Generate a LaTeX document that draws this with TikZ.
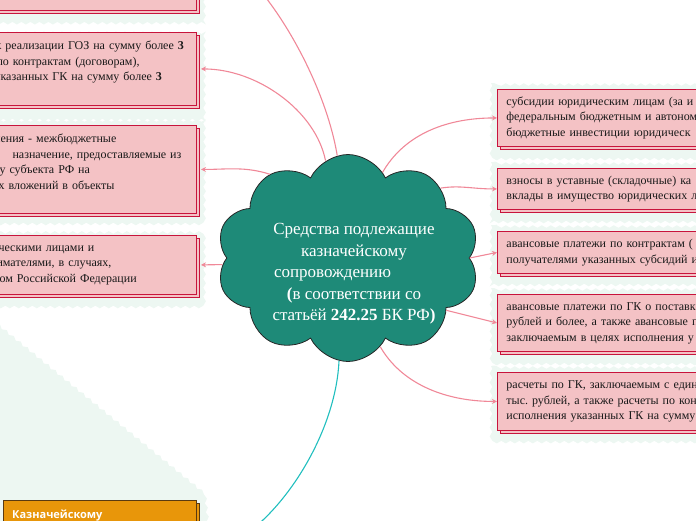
\documentclass[tikz,border=0pt]{standalone}
\usepackage{fontspec}
\setmainfont{Liberation Serif}
\newfontfamily\kaznfont{Open Sans}
\usepackage{xcolor}
\usetikzlibrary{arrows.meta, calc, positioning, shapes.symbols, shadows, backgrounds, decorations.pathmorphing}

\definecolor{cloudteal}{RGB}{30,138,120}
\definecolor{boxpink}{RGB}{244,194,197}
\definecolor{boxred}{RGB}{200,20,60}
\definecolor{linkpink}{RGB}{240,136,152}
\definecolor{linkteal}{RGB}{32,190,190}
\definecolor{mintbg}{RGB}{237,247,242}
\definecolor{kaznorange}{RGB}{232,150,10}
\definecolor{kaznbrown}{RGB}{90,58,16}

\begin{document}
\begin{tikzpicture}[x=1pt, y=-1pt,
    pinkbox/.style={draw=boxred, fill=boxpink, line width=0.9pt, inner xsep=9pt, inner ysep=0pt,
        align=left, text=black!90, font=\fontsize{12}{15.5}\selectfont,
        copy shadow={shadow xshift=3pt, shadow yshift=-3pt}},
    lbox/.style={pinkbox, text width=188pt, anchor=north east},
    rbox/.style={pinkbox, text width=280pt, anchor=north west},
    link/.style={draw=linkpink, line width=1.1pt, -{Stealth[length=5pt, width=5pt]}},
    mint/.style={fill=mintbg, decorate, decoration={snake, segment length=9pt, amplitude=1.3pt}}]
    \useasboundingbox (0,0) rectangle (696,520);
    \clip (0,0) rectangle (696,520);

    % облако
    \node[cloud, cloud puffs=10, cloud puff arc=128, cloud ignores aspect,
        minimum width=263pt, minimum height=207pt, inner sep=0pt,
        fill=cloudteal, draw=black!85, line width=0.8pt] (sredstva) at (348,258) {};
    \node[align=center, text=white, font=\fontsize{17}{21.5}\selectfont] (sredtext) at (354,274)
        {Средства подлежащие\\
         казначейскому\\
         \makebox[160pt][l]{сопровождению}\\
         \textbf{(}в соответствии со\\
         статьёй \textbf{242.25} БК РФ\textbf{)}};

    % левые блоки
    \node[lbox, anchor=south east, minimum height=120pt] (topbox) at (197,11) {};
    \node[lbox, minimum height=73pt] (gozbox) at (197,32)
        {\hspace*{-4pt}к реализации ГОЗ на сумму более \textbf{3}\\
         \hspace*{-3pt}по контрактам (договорам),\\
         \hspace*{-5pt}указанных ГК на сумму более \textbf{3}\\ ~};
    \node[lbox, minimum height=88pt] (mbtbox) at (197,125)
        {\hspace*{-5pt}ления - межбюджетные\\
         \hspace*{13pt}назначение, предоставляемые из\\
         у субъекта РФ на\\
         \hspace*{-1pt}х вложений в объекты\\ ~};
    \node[lbox, minimum height=59pt] (ulbox) at (197,235)
        {\hspace*{-1pt}ческими лицами и\\
         \hspace*{-3pt}имателями, в случаях,\\
         ом Российской Федерации};

    % правые блоки
    \node[rbox, minimum height=57pt] (subsbox) at (497,89)
        {субсидии юридическим лицам (за и\\
         федеральным бюджетным и автоном\\
         бюджетные инвестиции юридическ};
    \node[rbox, minimum height=41pt] (vznosbox) at (497,168)
        {взносы в уставные (складочные) ка\\
         вклады в имущество юридических л};
    \node[rbox, minimum height=42pt] (avansbox) at (497,231)
        {авансовые платежи по контрактам (\\
         получателями указанных субсидий и};
    \node[rbox, minimum height=57pt] (avgkbox) at (497,294)
        {авансовые платежи по ГК о поставк\\
         рублей и более, а также авансовые п\\
         заключаемым в целях исполнения у};
    \node[rbox, minimum height=58pt] (raschbox) at (497,372)
        {расчеты по ГК, заключаемым с един\\
         тыс.\ рублей, а также расчеты по кон\\
         исполнения указанных ГК на сумму};

    % оранжевый блок
    \node[draw=kaznbrown, fill=kaznorange, line width=0.9pt, anchor=north west,
        minimum width=193pt, minimum height=100pt,
        copy shadow={shadow xshift=3pt, shadow yshift=-3pt}] (kaznbox) at (3,500) {};
    \node[anchor=base west, text=white, font=\kaznfont\bfseries\fontsize{11}{13}\selectfont,
        inner sep=0pt] (kazntitle) at (12,518) {Казначейскому};

    % фон
    \begin{scope}[on background layer]
        \clip (0,0) rectangle (696,520);
        \foreach \b in {topbox, gozbox, mbtbox, ulbox, subsbox, vznosbox, avansbox, avgkbox, raschbox}
            \path[mint] ($(\b.north west)+(-6,-6)$) rectangle ($(\b.south east)+(9,9)$);
        \path[mint] (-10,318) -- (203,492) -- (208,540) -- (-10,540) -- cycle;
    \end{scope}

    % связи
    \draw[link, shorten >=4pt] (sredstva.96) .. controls +(-15,-90) and +(50,0) .. (topbox.east);
    \draw[link, shorten >=4pt] (sredstva.103) .. controls +(-10,-50) and +(60,0) .. (gozbox.east);
    \draw[link, shorten >=4pt] (sredstva.133) .. controls +(-25,-8) and +(30,0) .. (mbtbox.east);
    \draw[link, shorten >=4pt] (sredstva.183) -- (ulbox.east);
    \draw[link] (sredstva.68) .. controls +(20,-35) and +(-55,0) .. (subsbox.west);
    \draw[link] (sredstva.37) .. controls +(20,-3) and +(-25,0) .. (vznosbox.west);
    \draw[link] (sredstva.0) -- (avansbox.west);
    \draw[link] (sredstva.-28) -- (avgkbox.west);
    \draw[link] (sredstva.-70) .. controls +(20,35) and +(-55,0) .. (raschbox.west);
    \draw[link, draw=linkteal, shorten >=4pt] (sredstva.-95) .. controls +(-4,88) and +(61,0) .. (kaznbox.east);
\end{tikzpicture}
\end{document}
